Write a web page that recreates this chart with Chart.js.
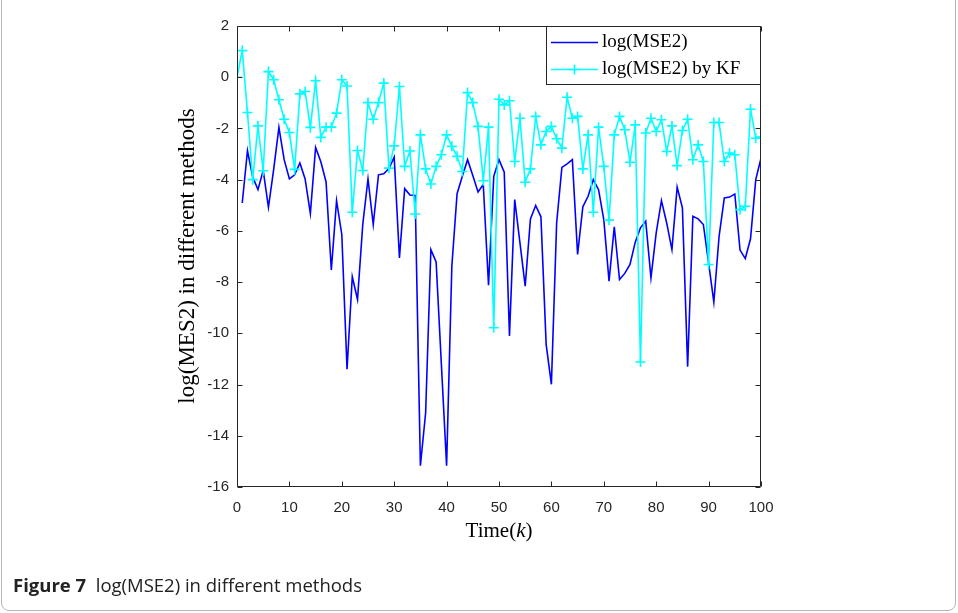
<!DOCTYPE html>
<html>
<head>
<meta charset="utf-8">
<script src="https://cdn.jsdelivr.net/npm/chart.js@4.4.1/dist/chart.umd.min.js"></script>
<style>
  html, body { margin: 0; padding: 0; background: #fff; }
  #wrap { position: relative; width: 958px; height: 613px; overflow: hidden; }
  #frame { position: absolute; left: 1px; top: -8px; width: 955px; height: 619px; box-sizing: border-box;
           border: 1px solid #b5b5b5; border-radius: 8px; pointer-events: none; }
  canvas { position: absolute; left: 0; top: 0; }
  #caption { position: absolute; left: 13px; top: 572px; font-family: "Open Sans", sans-serif;
             font-size: 18.5px; line-height: 25px; color: #222; white-space: pre; }
  #caption b { font-weight: 700; }
</style>
</head>
<body>
<div id="wrap">
  <canvas id="c" width="958" height="613"></canvas>
  <div id="frame"></div>
  <div id="caption"><b>Figure 7</b>  log(MSE2) in different methods</div>
</div>
<script>
// ---- data ----
const seriesNames = ["log(MSE2)", "log(MSE2) by KF"];
const xTitle = "Time(k)";
const yTitle = "log(MES2) in different methods";
const xTickValues = [0, 10, 20, 30, 40, 50, 60, 70, 80, 90, 100];
const yTickValues = [2, 0, -2, -4, -6, -8, -10, -12, -14, -16];

// log(MSE2): k = 1..100
const mseK = [1,2,3,4,5,6,7,8,9,10,11,12,13,14,15,16,17,18,19,20,21,22,23,24,25,26,27,28,29,30,31,32,33,34,35,36,37,38,39,40,41,42,43,44,45,46,47,48,49,50,51,52,53,54,55,56,57,58,59,60,61,62,63,64,65,66,67,68,69,70,71,72,73,74,75,76,77,78,79,80,81,82,83,84,85,86,87,88,89,90,91,92,93,94,95,96,97,98,99,100];
const mseValues = [
  -4.91, -2.87, -3.90, -4.39, -3.64, -5.08, -3.60, -1.96, -3.22, -3.97,
  -3.81, -3.35, -3.97, -5.32, -2.74, -3.30, -4.09, -7.53, -4.82, -6.14,
  -11.40, -7.79, -8.68, -5.75, -3.97, -5.75, -3.81, -3.77, -3.57, -3.12,
  -7.06, -4.35, -4.60, -4.62, -15.17, -13.10, -6.73, -7.21, -11.20, -15.17,
  -7.38, -4.55, -3.87, -3.22, -3.84, -4.48, -4.19, -8.12, -3.87, -3.22,
  -3.71, -10.10, -4.78, -6.47, -8.16, -5.53, -5.01, -5.45, -10.43, -11.99,
  -5.69, -3.52, -3.38, -3.22, -6.92, -5.06, -4.65, -4.00, -4.39, -5.56,
  -7.96, -5.84, -7.90, -7.66, -7.31, -6.44, -5.88, -5.62, -7.83, -6.08,
  -4.82, -5.69, -6.73, -4.29, -5.10, -11.30, -5.43, -5.53, -5.75, -7.25,
  -8.78, -6.21, -4.71, -4.68, -4.56, -6.75, -7.08, -6.31, -4.00, -3.16
];

// log(MSE2) by KF: k = 0..100
const kfK = [0,1,2,3,4,5,6,7,8,9,10,11,12,13,14,15,16,17,18,19,20,21,22,23,24,25,26,27,28,29,30,31,32,33,34,35,36,37,38,39,40,41,42,43,44,45,46,47,48,49,50,51,52,53,54,55,56,57,58,59,60,61,62,63,64,65,66,67,68,69,70,71,72,73,74,75,76,77,78,79,80,81,82,83,84,85,86,87,88,89,90,91,92,93,94,95,96,97,98,99,100];
const kfValues = [
  0.00,
  1.04, -1.38, -4.00, -1.90, -3.65, 0.22, -0.10, -0.88, -1.64, -2.16,
  -3.60, -0.65, -0.56, -1.96, -0.14, -2.35, -1.95, -1.95, -1.40, -0.10,
  -0.34, -5.27, -2.86, -3.64, -0.99, -1.64, -0.99, -0.23, -3.55, -2.68,
  -0.36, -3.48, -2.88, -5.34, -2.25, -3.58, -4.17, -3.48, -3.03, -2.25,
  -2.70, -3.09, -3.68, -0.60, -0.99, -1.92, -4.04, -1.95, -9.78, -0.86,
  -1.08, -0.92, -3.29, -1.60, -4.10, -3.58, -1.53, -2.64, -2.12, -1.92,
  -2.40, -2.77, -0.78, -1.60, -1.53, -3.58, -2.25, -5.27, -1.95, -3.48,
  -5.58, -2.25, -1.53, -2.05, -3.32, -1.86, -11.12, -2.18, -1.60, -2.12,
  -1.66, -2.90, -1.90, -3.45, -2.08, -1.64, -3.22, -2.64, -3.29, -7.31,
  -1.77, -1.77, -3.29, -2.96, -3.03, -5.17, -5.04, -1.25, -2.38, -2.34
];

const blue = "#0000ff";
const cyan = "#00ffff";
const axisColor = "#262626";

const framePlugin = {
  id: "matlabFrame",
  afterDatasetsDraw(chart) {
    const ctx = chart.ctx;
    const { left, right, top, bottom } = chart.chartArea;
    const xs = chart.scales.x, ys = chart.scales.y;
    ctx.save();
    ctx.strokeStyle = axisColor;
    ctx.lineWidth = 1;
    const L = Math.round(left) + 0.5, R = Math.round(right) - 0.5;
    const T = Math.round(top) + 0.5, B = Math.round(bottom) - 0.5;
    ctx.beginPath();
    ctx.rect(L, T, R - L, B - T);
    ctx.stroke();
    const tl = 5;
    ctx.beginPath();
    xTickValues.forEach(v => {
      const p = Math.round(xs.getPixelForValue(v)) + 0.5;
      ctx.moveTo(p, B); ctx.lineTo(p, B - tl);
      ctx.moveTo(p, T); ctx.lineTo(p, T + tl);
    });
    yTickValues.forEach(v => {
      const p = Math.round(ys.getPixelForValue(v)) + 0.5;
      ctx.moveTo(L, p); ctx.lineTo(L + tl, p);
      ctx.moveTo(R, p); ctx.lineTo(R - tl, p);
    });
    ctx.stroke();

    // axis titles
    ctx.fillStyle = "#000";
    ctx.textBaseline = "middle";
    const serif = '"Liberation Serif", "DejaVu Serif", serif';
    const fs = "21px ";
    // x title with italic k
    const cx = (left + right) / 2, cy = 531;
    const p1 = "Time(", p3 = ")";
    ctx.font = fs + serif; const w1 = ctx.measureText(p1).width;
    ctx.font = "italic " + fs + serif; const w2 = ctx.measureText("k").width;
    ctx.font = fs + serif; const w3 = ctx.measureText(p3).width;
    const sx = cx - (w1 + w2 + w3) / 2;
    ctx.textAlign = "left";
    ctx.fillText(p1, sx, cy);
    ctx.font = "italic " + fs + serif; ctx.fillText("k", sx + w1, cy);
    ctx.font = fs + serif; ctx.fillText(p3, sx + w1 + w2, cy);

    // y title
    ctx.save();
    ctx.translate(188, 256);
    ctx.rotate(-Math.PI / 2);
    ctx.textAlign = "center";
    ctx.font = "23px " + serif;
    ctx.fillText(yTitle, 0, 0);
    ctx.restore();

    // legend
    const lx = 546.5, ly = 26.5, lw = 214, lh = 58;
    ctx.fillStyle = "#fff";
    ctx.fillRect(lx, ly, lw, lh);
    ctx.strokeStyle = axisColor;
    ctx.lineWidth = 1;
    ctx.strokeRect(lx, ly, lw, lh);
    const rows = [ly + 16, ly + 43];
    const colors = [blue, cyan];
    ctx.font = "19px " + serif;
    ctx.textAlign = "left";
    rows.forEach((yy, i) => {
      ctx.strokeStyle = colors[i];
      ctx.lineWidth = 1.6;
      ctx.beginPath();
      ctx.moveTo(551, yy); ctx.lineTo(598, yy);
      ctx.stroke();
      if (i === 1) {
        ctx.beginPath();
        ctx.moveTo(574.5, yy - 5); ctx.lineTo(574.5, yy + 5);
        ctx.moveTo(569.5, yy); ctx.lineTo(579.5, yy);
        ctx.stroke();
      }
      ctx.fillStyle = "#000";
      ctx.fillText(seriesNames[i], 602, yy);
    });
    ctx.restore();
  }
};

new Chart(document.getElementById("c"), {
  type: "line",
  data: {
    datasets: [
      {
        label: seriesNames[1],
        data: kfK.map((k, i) => ({ x: k, y: kfValues[i] })),
        borderColor: cyan,
        backgroundColor: cyan,
        borderWidth: 1.6,
        pointStyle: "cross",
        pointRadius: 5,
        pointBorderWidth: 1.6,
        pointBorderColor: cyan,
        tension: 0,
        order: 0
      },
      {
        label: seriesNames[0],
        data: mseK.map((k, i) => ({ x: k, y: mseValues[i] })),
        borderColor: blue,
        backgroundColor: blue,
        borderWidth: 1.6,
        pointRadius: 0,
        tension: 0,
        order: 1
      }
    ]
  },
  options: {
    responsive: false,
    animation: false,
    devicePixelRatio: 1,
    layout: { padding: { top: 26, right: 197, left: 0, bottom: 0 } },
    plugins: { legend: { display: false }, tooltip: { enabled: false } },
    scales: {
      x: {
        type: "linear",
        min: 0, max: 100,
        afterBuildTicks: s => { s.ticks = xTickValues.map(v => ({ value: v })); },
        afterFit: s => { s.height = 126; },
        grid: { display: false },
        border: { display: false },
        ticks: { color: axisColor, padding: 4, maxRotation: 0, autoSkip: false,
                 font: { family: '"Liberation Sans", Arial, sans-serif', size: 15 } }
      },
      y: {
        type: "linear",
        min: -16, max: 2,
        afterBuildTicks: s => { s.ticks = yTickValues.map(v => ({ value: v })); },
        afterFit: s => { s.width = 237; },
        grid: { display: false, drawTicks: false },
        border: { display: false },
        ticks: { color: axisColor, padding: 8, autoSkip: false,
                 font: { family: '"Liberation Sans", Arial, sans-serif', size: 15 } }
      }
    }
  },
  plugins: [framePlugin]
});
</script>
</body>
</html>
